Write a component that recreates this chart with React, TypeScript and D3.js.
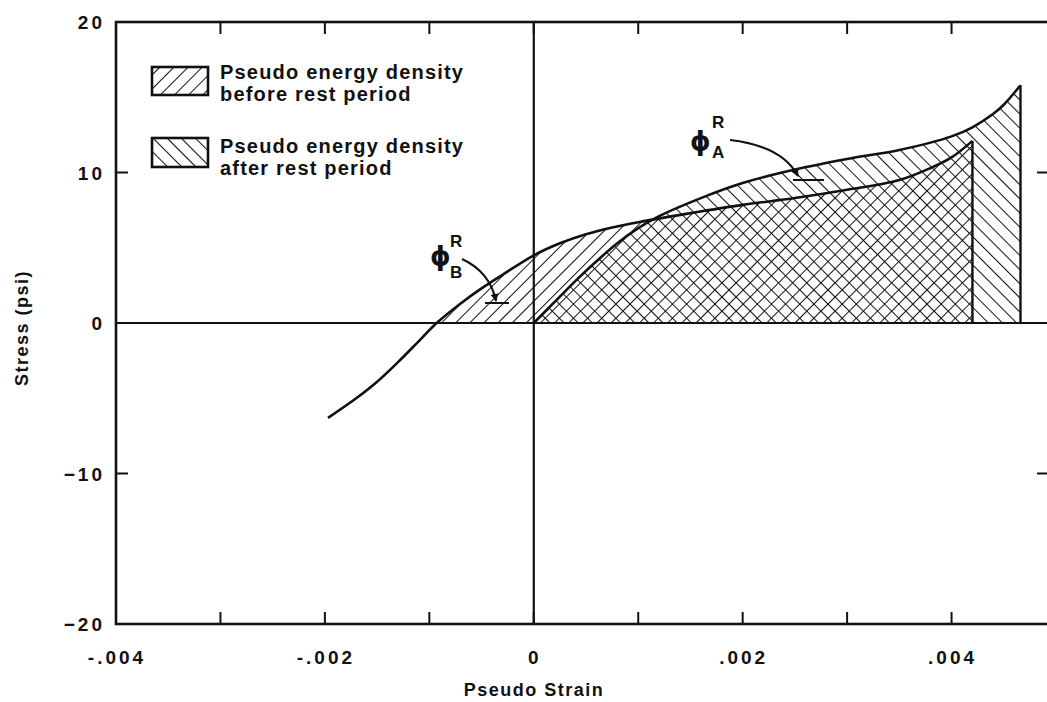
import React from 'react';
import * as d3 from 'd3';

// ---- data ----
const xTickValues = [-0.004, -0.003, -0.002, -0.001, 0, 0.001, 0.002, 0.003, 0.004, 0.005];
const xLabelValues = [-0.004, -0.002, 0, 0.002, 0.004];
const xLabels = ['-.004', '-.002', '0', '.002', '.004'];
const yTickValues = [-20, -10, 0, 10, 20];
const yLabels = ['−20', '−10', '0', '10', '20'];

// Curve before rest period (/// hatch)
const beforeStrain = [-0.00197, -0.0017, -0.0015, -0.0013, -0.0011, -0.00093, -0.0007, -0.0005, -0.0003, 0, 0.00025, 0.0005, 0.00075, 0.001, 0.0015, 0.002, 0.0025, 0.003, 0.0035, 0.0038, 0.004, 0.0042];
const beforeStress = [-6.3, -5.0, -3.9, -2.6, -1.2, 0, 1.3, 2.3, 3.2, 4.5, 5.3, 5.9, 6.35, 6.7, 7.3, 7.85, 8.3, 8.85, 9.5, 10.3, 11.0, 12.1];

// Curve after rest period (\\\ hatch)
const afterStrain = [0, 0.0002, 0.0004, 0.0006, 0.0008, 0.001, 0.0012, 0.0016, 0.002, 0.0025, 0.003, 0.0035, 0.004, 0.0042, 0.0044, 0.0045, 0.00466];
const afterStress = [0, 1.4, 2.8, 4.1, 5.3, 6.3, 7.1, 8.3, 9.3, 10.2, 10.9, 11.5, 12.4, 13.0, 13.9, 14.5, 15.8];

const legendLabels = [
  ['Pseudo energy density', 'before rest period'],
  ['Pseudo energy density', 'after rest period'],
];

const W = 1047;
const H = 702;
const FONT = '"Liberation Sans", Arial, Helvetica, sans-serif';
const PHI_FONT = '"DejaVu Sans", "Liberation Sans", sans-serif';

export default function App() {
  const x = d3.scaleLinear().domain([-0.004, 0.005]).range([116, 1056]);
  const y = d3.scaleLinear().domain([-20, 20]).range([624, 22]);

  const before = beforeStrain.map((s, i) => [s, beforeStress[i]] as [number, number]);
  const after = afterStrain.map((s, i) => [s, afterStress[i]] as [number, number]);

  const curve = d3.curveCatmullRom.alpha(0.5);
  const line = d3.line<[number, number]>().x(d => x(d[0])).y(d => y(d[1])).curve(curve);
  const area = d3.area<[number, number]>().x(d => x(d[0])).y0(y(0)).y1(d => y(d[1])).curve(curve);

  const bLast = before[before.length - 1];
  const aLast = after[after.length - 1];

  const tick = 12;
  const x0 = x.range()[0], x1 = x.range()[1];
  const yTop = y.range()[1], yBot = y.range()[0];

  return (
    <svg width={W} height={H} style={{ position: 'absolute', left: 0, top: 0, background: '#fff' }}>
      <defs>
        <pattern id="hatchFwd" patternUnits="userSpaceOnUse" width={10} height={10} patternTransform="rotate(45)">
          <line x1={0} y1={-2} x2={0} y2={12} stroke="#111" strokeWidth={2} />
        </pattern>
        <pattern id="hatchBack" patternUnits="userSpaceOnUse" width={10} height={10} patternTransform="rotate(-45)">
          <line x1={0} y1={-2} x2={0} y2={12} stroke="#111" strokeWidth={2} />
        </pattern>
        <clipPath id="above0">
          <rect x={x0} y={yTop} width={x1 - x0} height={y(0) - yTop} />
        </clipPath>
        <marker id="arrowB" viewBox="0 0 10 10" refX={9} refY={5} markerWidth={8} markerHeight={8} orient="auto" markerUnits="userSpaceOnUse">
          <path d="M0,0 L10,5 L0,10 z" fill="#111" />
        </marker>
      </defs>

      {/* hatched areas */}
      <g clipPath="url(#above0)">
        <path d={area(before) || ''} fill="url(#hatchFwd)" />
        <path d={area(after) || ''} fill="url(#hatchBack)" />
      </g>

      {/* curves */}
      <path d={line(before) || ''} fill="none" stroke="#111" strokeWidth={2.6} />
      <path d={line(after) || ''} fill="none" stroke="#111" strokeWidth={2.6} />
      <line x1={x(bLast[0])} x2={x(bLast[0])} y1={y(bLast[1])} y2={y(0)} stroke="#111" strokeWidth={2.4} />
      <line x1={x(aLast[0])} x2={x(aLast[0])} y1={y(aLast[1])} y2={y(0)} stroke="#111" strokeWidth={2.4} />

      {/* zero lines */}
      <line x1={x0} x2={x1} y1={y(0)} y2={y(0)} stroke="#111" strokeWidth={2.2} />
      <line x1={x(0)} x2={x(0)} y1={yTop} y2={yBot} stroke="#111" strokeWidth={2.2} />

      {/* frame */}
      <rect x={x0} y={yTop} width={x1 - x0} height={yBot - yTop} fill="none" stroke="#111" strokeWidth={2.6} />

      {/* x ticks */}
      {xTickValues.map((v, i) => (
        <g key={'xt' + i}>
          <line x1={x(v)} x2={x(v)} y1={yBot} y2={yBot - tick} stroke="#111" strokeWidth={2} />
          <line x1={x(v)} x2={x(v)} y1={yTop} y2={yTop + tick} stroke="#111" strokeWidth={2} />
        </g>
      ))}
      {/* y ticks */}
      {yTickValues.map((v, i) => (
        <g key={'yt' + i}>
          <line x1={x0} x2={x0 + tick} y1={y(v)} y2={y(v)} stroke="#111" strokeWidth={2} />
          <line x1={x1} x2={x1 - tick - 7} y1={y(v)} y2={y(v)} stroke="#111" strokeWidth={2} />
        </g>
      ))}

      {/* tick labels */}
      {xLabelValues.map((v, i) => (
        <text key={'xl' + i} x={x(v) + 1} y={664} textAnchor="middle" fontFamily={FONT} fontWeight="bold" fontSize={19} letterSpacing={3} fill="#111">
          {xLabels[i]}
        </text>
      ))}
      {yTickValues.map((v, i) => (
        <text key={'yl' + i} x={105} y={y(v) + 7} textAnchor="end" fontFamily={FONT} fontWeight="bold" fontSize={19} letterSpacing={3} fill="#111">
          {yLabels[i]}
        </text>
      ))}

      {/* axis titles */}
      <text x={534} y={696} textAnchor="middle" fontFamily={FONT} fontWeight="bold" fontSize={18} letterSpacing={1.5} fill="#111">
        Pseudo Strain
      </text>
      <text transform={`translate(28,328) rotate(-90)`} textAnchor="middle" fontFamily={FONT} fontWeight="bold" fontSize={18} letterSpacing={1.5} fill="#111">
        Stress (psi)
      </text>

      {/* legend */}
      <rect x={152} y={67} width={56} height={28} fill="url(#hatchFwd)" stroke="#111" strokeWidth={2.6} />
      <rect x={152} y={138} width={56} height={29} fill="url(#hatchBack)" stroke="#111" strokeWidth={2.6} />
      {legendLabels.map((lines, i) => (
        <text key={'lg' + i} fontFamily={FONT} fontWeight="bold" fontSize={20} letterSpacing={1.2} fill="#111">
          <tspan x={220} y={i === 0 ? 79 : 153}>{lines[0]}</tspan>
          <tspan x={220} y={i === 0 ? 101 : 175}>{lines[1]}</tspan>
        </text>
      ))}

      {/* phi B annotation */}
      <text x={430} y={265} fontFamily={PHI_FONT} fontWeight="bold" fontSize={26} fill="#111">ϕ</text>
      <text x={450} y={247} fontFamily={FONT} fontWeight="bold" fontSize={17} fill="#111">R</text>
      <text x={450} y={278} fontFamily={FONT} fontWeight="bold" fontSize={17} fill="#111">B</text>
      <path d="M462,259 Q490,272 496,301" fill="none" stroke="#111" strokeWidth={2} markerEnd="url(#arrowB)" />
      <line x1={485} x2={509} y1={303} y2={303} stroke="#111" strokeWidth={2} />

      {/* phi A annotation */}
      <text x={690} y={150} fontFamily={PHI_FONT} fontWeight="bold" fontSize={26} fill="#111">ϕ</text>
      <text x={712} y={128} fontFamily={FONT} fontWeight="bold" fontSize={17} fill="#111">R</text>
      <text x={712} y={158} fontFamily={FONT} fontWeight="bold" fontSize={17} fill="#111">A</text>
      <path d="M730,140 Q782,146 798,176" fill="none" stroke="#111" strokeWidth={2} markerEnd="url(#arrowB)" />
      <line x1={793} x2={824} y1={180} y2={180} stroke="#111" strokeWidth={2} />
    </svg>
  );
}
